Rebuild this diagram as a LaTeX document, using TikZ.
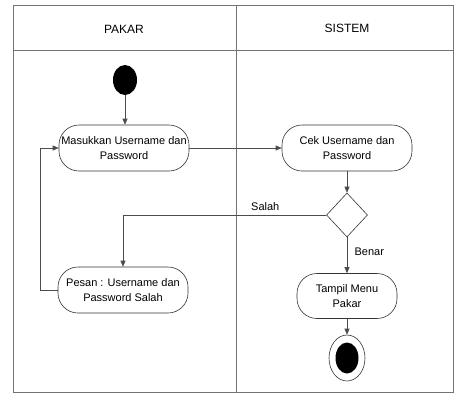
\documentclass[tikz,border=0pt]{standalone}
\usepackage{fontspec}
\setmainfont{Liberation Sans}
\usetikzlibrary{arrows.meta,shapes.geometric}
\begin{document}
\begin{tikzpicture}[x=1pt,y=-1pt,
  lane/.style={draw=black!55,line width=0.8pt},
  act/.style={draw=black!80,rounded corners=20pt,minimum width=130pt,minimum height=46pt,
    align=center,font=\fontsize{11}{15}\selectfont,inner sep=1pt,line width=0.6pt},
  flow/.style={draw=black!70,line width=0.6pt,-{Triangle[length=6pt,width=5pt]}},
  lbl/.style={font=\fontsize{11}{13}\selectfont},
  hdr/.style={font=\fontsize{12}{14}\selectfont}]
\useasboundingbox (0,0) rectangle (454,394);
\fill[white] (0,0) rectangle (454,394);
% swimlanes
\draw[lane] (13,5) rectangle (453,392);
\draw[lane] (13,50) -- (453,50);
\draw[lane] (236,5) -- (236,392);
\node[hdr] (h1) at (124,29) {PAKAR};
\node[hdr] (h2) at (347,28) {SISTEM};
% nodes
\node[ellipse,fill=black,minimum width=24pt,minimum height=30pt,inner sep=0pt] (start) at (125,80) {};
\node[act] (a1) at (124,148) {Masukkan Username dan\\Password};
\node[act] (a2) at (347,148) {Cek Username dan\\Password};
\node[diamond,draw=black!80,line width=0.6pt,minimum width=41pt,minimum height=44pt,inner sep=0pt] (d) at (347,215) {};
\node[act] (a3) at (123,290) {Pesan : Username dan\\Password Salah};
\node[act,minimum width=100pt,minimum height=45pt] (a4) at (347,296) {Tampil Menu\\Pakar};
\node[ellipse,draw=black!80,line width=0.6pt,minimum width=36pt,minimum height=46pt,inner sep=0pt] (endo) at (347,358) {};
\node[ellipse,fill=black,minimum width=23pt,minimum height=31pt,inner sep=0pt] (endi) at (347,358) {};
% connectors
\draw[flow] (start) -- (start |- a1.north);
\draw[flow] (a1) -- (a2);
\draw[flow] (a2) -- (d);
\draw[flow] (d.west) -| node[lbl,pos=0.15,above=1pt] {Salah} (a3.north);
\draw[flow] (d) -- node[lbl,pos=0.4,right=4pt] {Benar} (a4);
\draw[flow] (a4) -- (endo);
\coordinate (lp) at (40,290);
\draw[flow] (a3.west) -- (lp) |- (a1.west);
\end{tikzpicture}
\end{document}
